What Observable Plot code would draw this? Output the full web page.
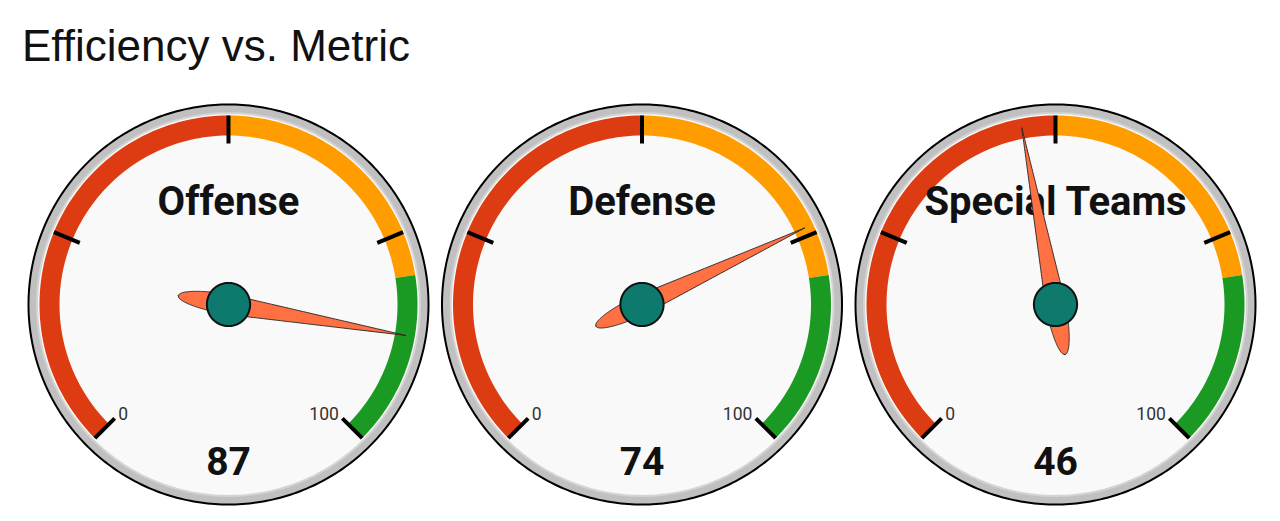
<!DOCTYPE html>
<html><head><meta charset="utf-8">
<script src="https://cdn.jsdelivr.net/npm/d3@7"></script>
<script src="https://cdn.jsdelivr.net/npm/@observablehq/plot@0.6"></script>
<style>
body{margin:0;background:#fff;}
#title{font:44px "Liberation Sans",Arial,sans-serif;color:#111;height:90px;box-sizing:border-box;padding:24px 0 0 22px;line-height:1;white-space:nowrap;}
#chart svg{display:block;}
</style></head><body>
<div id="title">Efficiency vs. Metric</div>
<div id="chart"></div>
<script>
// ---- data ----
const gauges = ["Offense", "Defense", "Special Teams"];
const values = [87, 74, 46];
const bandStops = [0, 50, 80, 100];
const bandColors = ["#dd3c12", "#ff9d00", "#1b9a23"];
const majorTicks = [0, 25, 50, 75, 100];
const endLabels = [0, 100];

// ---- layout (gauge units: 1 = outer radius) ----
const W = 1280, H = 431, UNIT = 200;
const centers = gauges.map((g, i) => (228 + i * 413.5) / UNIT);
const ang = v => (-135 + 270 * v / 100) * Math.PI / 180;
const pt = (cx, r, v) => [cx + r * Math.sin(ang(v)), r * Math.cos(ang(v))];

function disk(r) {
  const out = [];
  gauges.forEach((g, i) => {
    for (let k = 0; k <= 360; k++) {
      const t = k / 360 * 2 * Math.PI;
      out.push({g, x: centers[i] + r * Math.sin(t), y: r * Math.cos(t)});
    }
  });
  return out;
}
function band(j, r0, r1) {
  const out = [];
  const a = bandStops[j], b = bandStops[j + 1];
  gauges.forEach((g, i) => {
    const n = 80;
    for (let k = 0; k <= n; k++) { const [x, y] = pt(centers[i], r1, a + (b - a) * k / n); out.push({g, x, y}); }
    for (let k = n; k >= 0; k--) { const [x, y] = pt(centers[i], r0, a + (b - a) * k / n); out.push({g, x, y}); }
  });
  return out;
}
const tickData = [];
gauges.forEach((g, i) => majorTicks.forEach(v => {
  const [x1, y1] = pt(centers[i], 0.805, v), [x2, y2] = pt(centers[i], 0.945, v);
  tickData.push({x1, y1, x2, y2});
}));
const labelData = [];
gauges.forEach((g, i) => endLabels.forEach(v => {
  const [x, y] = pt(centers[i], 0.78, v);
  labelData.push({x, y, v, text: String(v)});
}));
// needle polygons
const needle = [];
gauges.forEach((g, i) => {
  const a = ang(values[i]);
  const ux = Math.sin(a), uy = Math.cos(a), px = Math.cos(a), py = -Math.sin(a);
  const L = 0.9, Lt = 0.255, w0 = 0.05;
  const prof = [];
  const n = 60;
  for (let k = 0; k <= n; k++) { const u = -Lt + Lt * k / n; prof.push([u, w0 * Math.sqrt(Math.max(0, 1 - (u / Lt) ** 2))]); }
  for (let k = 1; k <= n; k++) { const u = L * k / n; prof.push([u, w0 * (1 - u / L)]); }
  const pts = prof.concat(prof.slice().reverse().map(([u, w]) => [u, -w]));
  pts.forEach(([u, w]) => needle.push({g, x: centers[i] + u * ux + w * px, y: u * uy + w * py}));
});
const hub = disk(0.108);
const titles = gauges.map((g, i) => ({x: centers[i], y: 0.51, text: g}));
const vals = gauges.map((g, i) => ({x: centers[i], y: -0.79, text: String(values[i])}));

const chart = Plot.plot({
  width: W, height: H,
  margin: 0,
  x: {domain: [0, W / UNIT], axis: null},
  y: {domain: [-(H - 214) / UNIT, 214 / UNIT], axis: null},
  style: {background: "white", overflow: "visible"},
  marks: [
    Plot.line(disk(1.0), {x: "x", y: "y", z: "g", fill: "#c0c0c0", stroke: "#000", strokeWidth: 2}),
    Plot.line(disk(0.962), {x: "x", y: "y", z: "g", fill: "#d4d4d4", stroke: "none"}),
    Plot.line(disk(0.952), {x: "x", y: "y", z: "g", fill: "#f9f9f9", stroke: "none"}),
    ...bandColors.map((c, j) => Plot.line(band(j, 0.845, 0.945), {x: "x", y: "y", z: "g", fill: c, stroke: "none"})),
    Plot.link(tickData, {x1: "x1", y1: "y1", x2: "x2", y2: "y2", stroke: "#000", strokeWidth: 4, strokeLinecap: "butt"}),
    Plot.text(labelData.filter(d => d.v === endLabels[0]), {x: "x", y: "y", text: "text", textAnchor: "start", fontSize: 17.5, fontFamily: "Roboto", fill: "#333"}),
    Plot.text(labelData.filter(d => d.v === endLabels[1]), {x: "x", y: "y", text: "text", textAnchor: "end", fontSize: 17.5, fontFamily: "Roboto", fill: "#333"}),
    Plot.text(titles, {x: "x", y: "y", text: "text", fontSize: 40, fontWeight: "bold", fontFamily: "Roboto", fill: "#111"}),
    Plot.text(vals, {x: "x", y: "y", text: "text", fontSize: 39, fontWeight: "bold", fontFamily: "Roboto", fill: "#111"}),
    Plot.line(needle, {x: "x", y: "y", z: "g", fill: "#ff7043", stroke: "#222", strokeWidth: 0.9}),
    Plot.line(hub, {x: "x", y: "y", z: "g", fill: "#0e7a6e", stroke: "#111", strokeWidth: 2})
  ]
});
document.getElementById("chart").appendChild(chart);
</script>
</body></html>
